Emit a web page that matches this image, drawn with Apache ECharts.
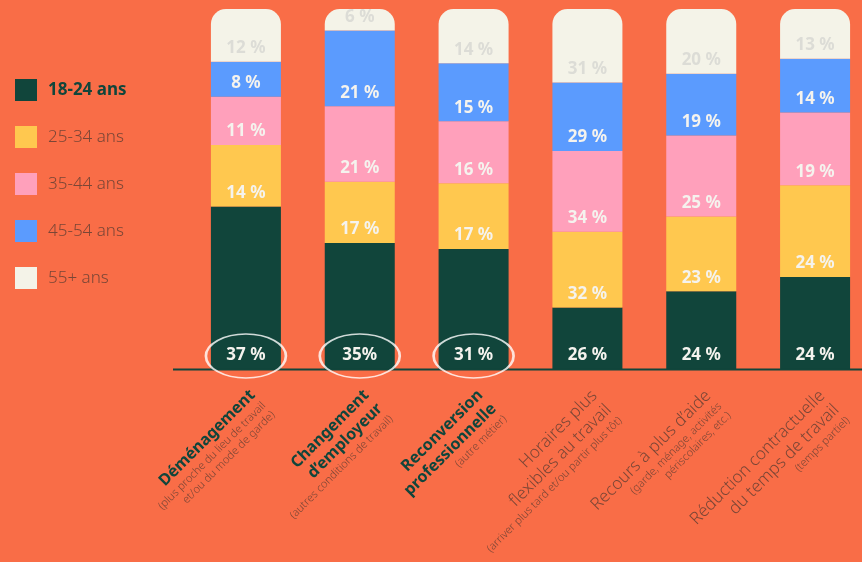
<!DOCTYPE html>
<html>
<head>
<meta charset="utf-8">
<script src="https://cdn.jsdelivr.net/npm/echarts@6/dist/echarts.min.js"></script>
<style>
  html, body { margin: 0; padding: 0; background: #f96d47; }
  #chart { width: 862px; height: 562px; }
</style>
</head>
<body>
<div id="chart"></div>
<script>
// catégories (titre) + sous-titres
const categories = ['Déménagement', 'Changement\nd’employeur', 'Reconversion\nprofessionnelle',
  'Horaires plus\nflexibles au travail', 'Recours à plus d’aide', 'Réduction contractuelle\ndu temps de travail'];
const subtitles = ['(plus proche du lieu de travail\net/ou du mode de garde)', '(autres conditions de travail)',
  '(autre métier)', '(arriver plus tard et/ou partir plus tôt)', '(garde, ménage, activités\npériscolaires, etc.)',
  '(temps partiel)'];
const boldTitle = [true, true, true, false, false, false];
const ages = ['18-24 ans', '25-34 ans', '35-44 ans', '45-54 ans', '55+ ans'];
// valeurs (%)
const v1824 = [37, 35, 31, 26, 24, 24];
const v2534 = [14, 17, 17, 32, 23, 24];
const v3544 = [11, 21, 16, 34, 25, 19];
const v4554 = [8, 21, 15, 29, 19, 14];
const v55 = [12, 6, 14, 31, 20, 13];
const lbl1824 = ['37 %', '35%', '31 %', '26 %', '24 %', '24 %'];
const circled = [0, 1, 2];

const colors = ['#11453b', '#ffc84f', '#ffa0bb', '#5b9bfe', '#f4f3e8'];
const allVals = [v1824, v2534, v3544, v4554, v55];
const FONT = "'Noto Sans', sans-serif";

// chaque barre est ramenée à 100 %
const totals = categories.map((c, i) => allVals.reduce((s, a) => s + a[i], 0));

let series = allVals.map((arr, k) => ({
  name: ages[k],
  type: 'bar',
  stack: 'all',
  barWidth: 70,
  itemStyle: {
    color: colors[k],
    borderRadius: k === 4 ? [15, 15, 0, 0] : 0
  },
  label: {
    show: true,
    position: 'insideBottom',
    distance: 5,
    fontFamily: FONT,
    fontWeight: 'bold',
    fontSize: 17,
    color: k === 4 ? '#dcdcd6' : '#f5f3ee',
    formatter: p => k === 0 ? lbl1824[p.dataIndex] : p.data.raw + ' %'
  },
  data: arr.map((v, i) => ({ value: v / totals[i] * 100, raw: v }))
}));

// ellipses blanches autour des trois premières valeurs
series.push({
  type: 'scatter',
  silent: true,
  clip: false,
  z: 10,
  symbol: 'circle',
  symbolSize: [80, 44],
  symbolOffset: [0, -13],
  itemStyle: { color: 'rgba(0,0,0,0)', borderColor: '#ffffff', borderWidth: 2 },
  data: circled.map(i => [i, 0])
});

let myChart = echarts.init(document.getElementById('chart'));
let option = {
  backgroundColor: '#f96d47',
  animation: false,
  grid: { left: 189, width: 683, top: 9, bottom: 193, containLabel: false, outerBoundsMode: 'none' },
  legend: {
    orient: 'vertical',
    left: 10,
    top: 74,
    icon: 'rect',
    itemWidth: 22,
    itemHeight: 22,
    itemGap: 25,
    selectedMode: false,
    textStyle: { fontFamily: FONT, fontSize: 17, fontWeight: 300, color: '#7a4636', padding: [0, 0, 0, 6] },
    data: ages.map((a, i) => i === 0
      ? { name: a, textStyle: { fontWeight: 'bold', color: '#11453b' } }
      : { name: a })
  },
  xAxis: {
    type: 'category',
    data: categories,
    axisLine: { show: false },
    axisTick: { show: false },
    axisLabel: {
      interval: 0,
      rotate: 45,
      margin: 17,
      verticalAlign: 'top',
      formatter: function (value, index) {
        let key = boldTitle[index] ? 'b' : 't';
        let lines = value.split('\n').map(s => '{' + key + '|' + s + '}');
        subtitles[index].split('\n').forEach(s => lines.push('{s|' + s + '}'));
        return lines.join('\n');
      },
      rich: {
        b: { fontFamily: FONT, fontSize: 16, fontWeight: 'bold', color: '#11453b', lineHeight: 19 },
        t: { fontFamily: FONT, fontSize: 17, fontWeight: 300, color: '#7a4636', lineHeight: 20 },
        s: { fontFamily: FONT, fontSize: 11, fontWeight: 300, color: '#7a4636', lineHeight: 13 }
      }
    }
  },
  yAxis: {
    type: 'value',
    min: 0,
    max: 100,
    show: false
  },
  graphic: [{
    type: 'line',
    z: 5,
    shape: { x1: 173, y1: 369.5, x2: 862, y2: 369.5 },
    style: { stroke: '#11453b', lineWidth: 2 }
  }],
  series: series
};
myChart.setOption(option);
</script>
</body>
</html>
